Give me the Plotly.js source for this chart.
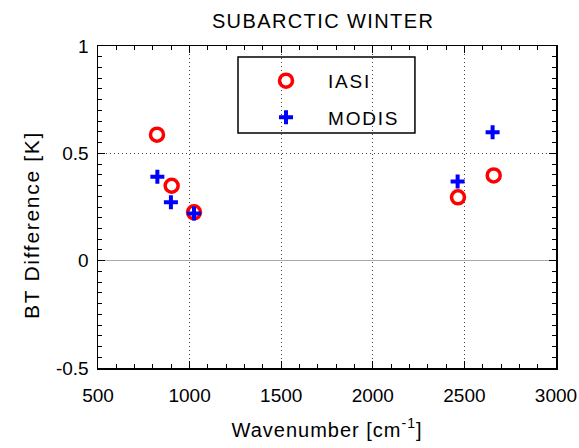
<!DOCTYPE html>
<html>
<head>
<meta charset="utf-8">
<script src="https://cdn.plot.ly/plotly-3.0.1.min.js"></script>
<style>
html,body{margin:0;padding:0;background:#fff}
#plot{width:579px;height:448px}
/* slightly airier lettering for titles and legend labels */
text.gtitle{letter-spacing:1.4px}
text.xtitle{letter-spacing:1px}
#plot g.annotation text{letter-spacing:1.7px}
text.legendtext{letter-spacing:1.8px}
</style>
</head>
<body>
<div id="plot"></div>
<script>
// Brightness-temperature differences per channel (wavenumber in cm^-1, difference in K)
var iasiWavenumber = [822, 902, 1024, 2465, 2660];
var iasiDiff = [0.587, 0.349, 0.225, 0.295, 0.397];
var modisWavenumber = [824, 898, 1024, 2463, 2654];
var modisDiff = [0.391, 0.272, 0.220, 0.369, 0.598];

var xTicks = [500, 1000, 1500, 2000, 2500, 3000];
var yTicks = [-0.5, 0, 0.5, 1];
var yTickText = ['-0.5', '0', '0.5', '1'];

var font = 'Liberation Sans, Arial, sans-serif';

var traces = [
  {
    x: iasiWavenumber, y: iasiDiff, name: 'IASI', mode: 'markers', type: 'scatter',
    legendgroup: 'a',
    marker: {symbol: 'circle-open', size: 13, color: '#ff0000', line: {width: 3.5, color: '#ff0000'}}
  },
  {
    x: modisWavenumber, y: modisDiff, name: 'MODIS', mode: 'markers', type: 'scatter',
    legendgroup: 'b',
    marker: {symbol: 'cross-thin-open', size: 10, color: '#0000ff', line: {width: 4, color: '#0000ff'}}
  }
];

var axisCommon = {
  showline: true, linecolor: '#000', linewidth: 1.5, mirror: 'ticks',
  ticks: 'inside', ticklen: 7, tickwidth: 1, tickcolor: '#000',
  showgrid: true, gridcolor: '#444', griddash: '1px,3px', gridwidth: 1,
  tickfont: {family: font, size: 19, color: '#000'}
};

var layout = {
  width: 579, height: 448,
  margin: {l: 98, r: 23, t: 46, b: 80},
  paper_bgcolor: '#fff', plot_bgcolor: '#fff',
  font: {family: font, color: '#000'},
  title: {text: 'SUBARCTIC WINTER', font: {family: font, size: 20, color: '#000'},
          x: 0.558, xanchor: 'center', y: 0.953, yanchor: 'middle'},
  xaxis: Object.assign({}, axisCommon, {
    range: [500, 3000], tickmode: 'array', tickvals: xTicks,
    zeroline: false, ticklabelstandoff: 10,
    minor: {dtick: 100, ticks: 'inside', ticklen: 4, tickcolor: '#000', showgrid: false},
    title: {text: 'Wavenumber [cm<sup>-1</sup>]', font: {family: font, size: 20, color: '#000'}, standoff: 17}
  }),
  yaxis: Object.assign({}, axisCommon, {
    range: [-0.5, 1], tickmode: 'array', tickvals: yTicks, ticktext: yTickText,
    zeroline: true, zerolinecolor: '#aaaaaa', zerolinewidth: 1.5,
    ticklabelstandoff: 4,
    minor: {dtick: 0.05, ticks: 'inside', ticklen: 4, tickcolor: '#000', showgrid: false}
  }),
  annotations: [{
    text: 'BT Difference [K]', textangle: -90, showarrow: false,
    xref: 'paper', yref: 'paper', x: -0.146, y: 0.443, xanchor: 'center', yanchor: 'middle',
    font: {family: font, size: 21, color: '#000'}
  }],
  // legend frame, drawn over the grid but under the markers
  shapes: [{
    type: 'rect', xref: 'paper', yref: 'paper', layer: 'between',
    x0: 0.3057, x1: 0.692, y0: 0.7298, y1: 0.9658,
    fillcolor: '#fff', line: {color: '#000', width: 1.5}
  }],
  showlegend: true,
  legend: {
    x: 0.3188, y: 0.951, xanchor: 'left', yanchor: 'top',
    bgcolor: 'rgba(0,0,0,0)', borderwidth: 0,
    font: {family: font, size: 19, color: '#000'},
    traceorder: 'grouped', tracegroupgap: 9, itemwidth: 74
  }
};

Plotly.newPlot('plot', traces, layout, {displayModeBar: false, staticPlot: true});
</script>
</body>
</html>
